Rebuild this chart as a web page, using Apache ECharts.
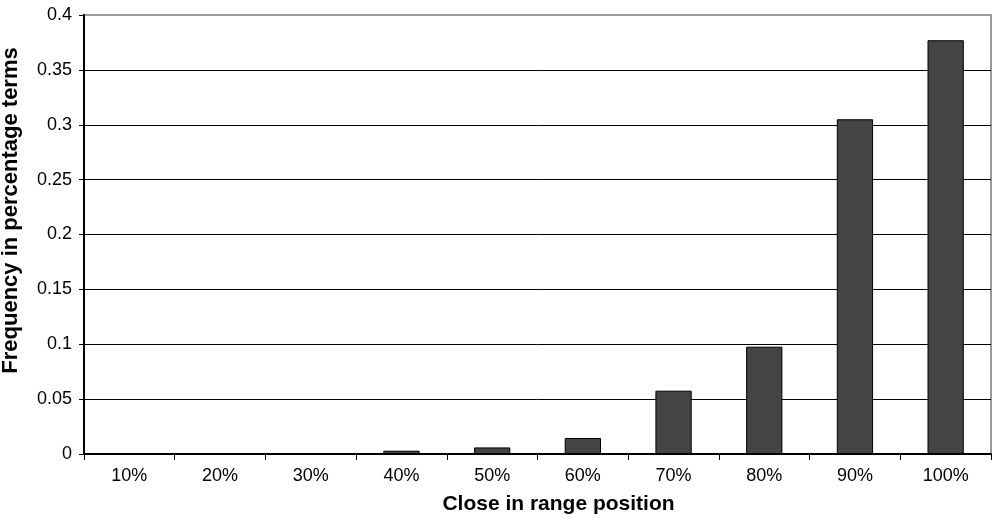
<!DOCTYPE html>
<html>
<head>
<meta charset="utf-8">
<script src="https://cdn.jsdelivr.net/npm/echarts@6/dist/echarts.min.js"></script>
<style>
  html, body { margin: 0; padding: 0; background: #fff; }
  #chart { width: 997px; height: 519px; }
</style>
</head>
<body>
<div id="chart"></div>
<script>
// close-in-range position buckets
var categories = ['10%', '20%', '30%', '40%', '50%', '60%', '70%', '80%', '90%', '100%'];
// frequency
var frequency = [0, 0, 0, 0.003, 0.006, 0.0146, 0.0577, 0.0978, 0.305, 0.377];

var chart = echarts.init(document.getElementById('chart'));
var font = 'Liberation Sans, Arial, sans-serif';

var option = {
    animation: false,
    backgroundColor: '#fff',
    grid: {
        left: 84,
        right: 6,
        top: 15,
        bottom: 65,
        containLabel: false,
        outerBoundsMode: 'none',
        show: true,
        borderColor: '#999',
        borderWidth: 2
    },
    xAxis: {
        type: 'category',
        data: categories,
        name: 'Close in range position',
        nameLocation: 'middle',
        nameGap: 40,
        nameTextStyle: { fontFamily: font, fontSize: 21, fontWeight: 'bold', color: '#000', padding: [0, 0, 0, 42] },
        axisLine: { lineStyle: { color: '#000', width: 2 } },
        axisTick: { show: true, length: 6, lineStyle: { color: '#000', width: 1 } },
        axisLabel: { fontFamily: font, fontSize: 18, color: '#000', margin: 13 }
    },
    yAxis: {
        type: 'value',
        min: 0,
        max: 0.4,
        interval: 0.05,
        name: 'Frequency in percentage terms',
        nameLocation: 'middle',
        nameGap: 62,
        nameTextStyle: { fontFamily: font, fontSize: 22, fontWeight: 'bold', color: '#000', padding: [0, 0, 0, 48] },
        axisLine: { show: true, lineStyle: { color: '#000', width: 2 } },
        axisTick: { show: true, length: 5, lineStyle: { color: '#000', width: 1 } },
        axisLabel: { fontFamily: font, fontSize: 18, color: '#000', margin: 12 },
        splitLine: { show: true, showMaxLine: false, lineStyle: { color: '#000', width: 1 } }
    },
    series: [
        {
            type: 'bar',
            data: frequency,
            barWidth: '40%',
            itemStyle: { color: '#444444', borderColor: '#000', borderWidth: 1 }
        }
    ]
};

chart.setOption(option);
</script>
</body>
</html>
